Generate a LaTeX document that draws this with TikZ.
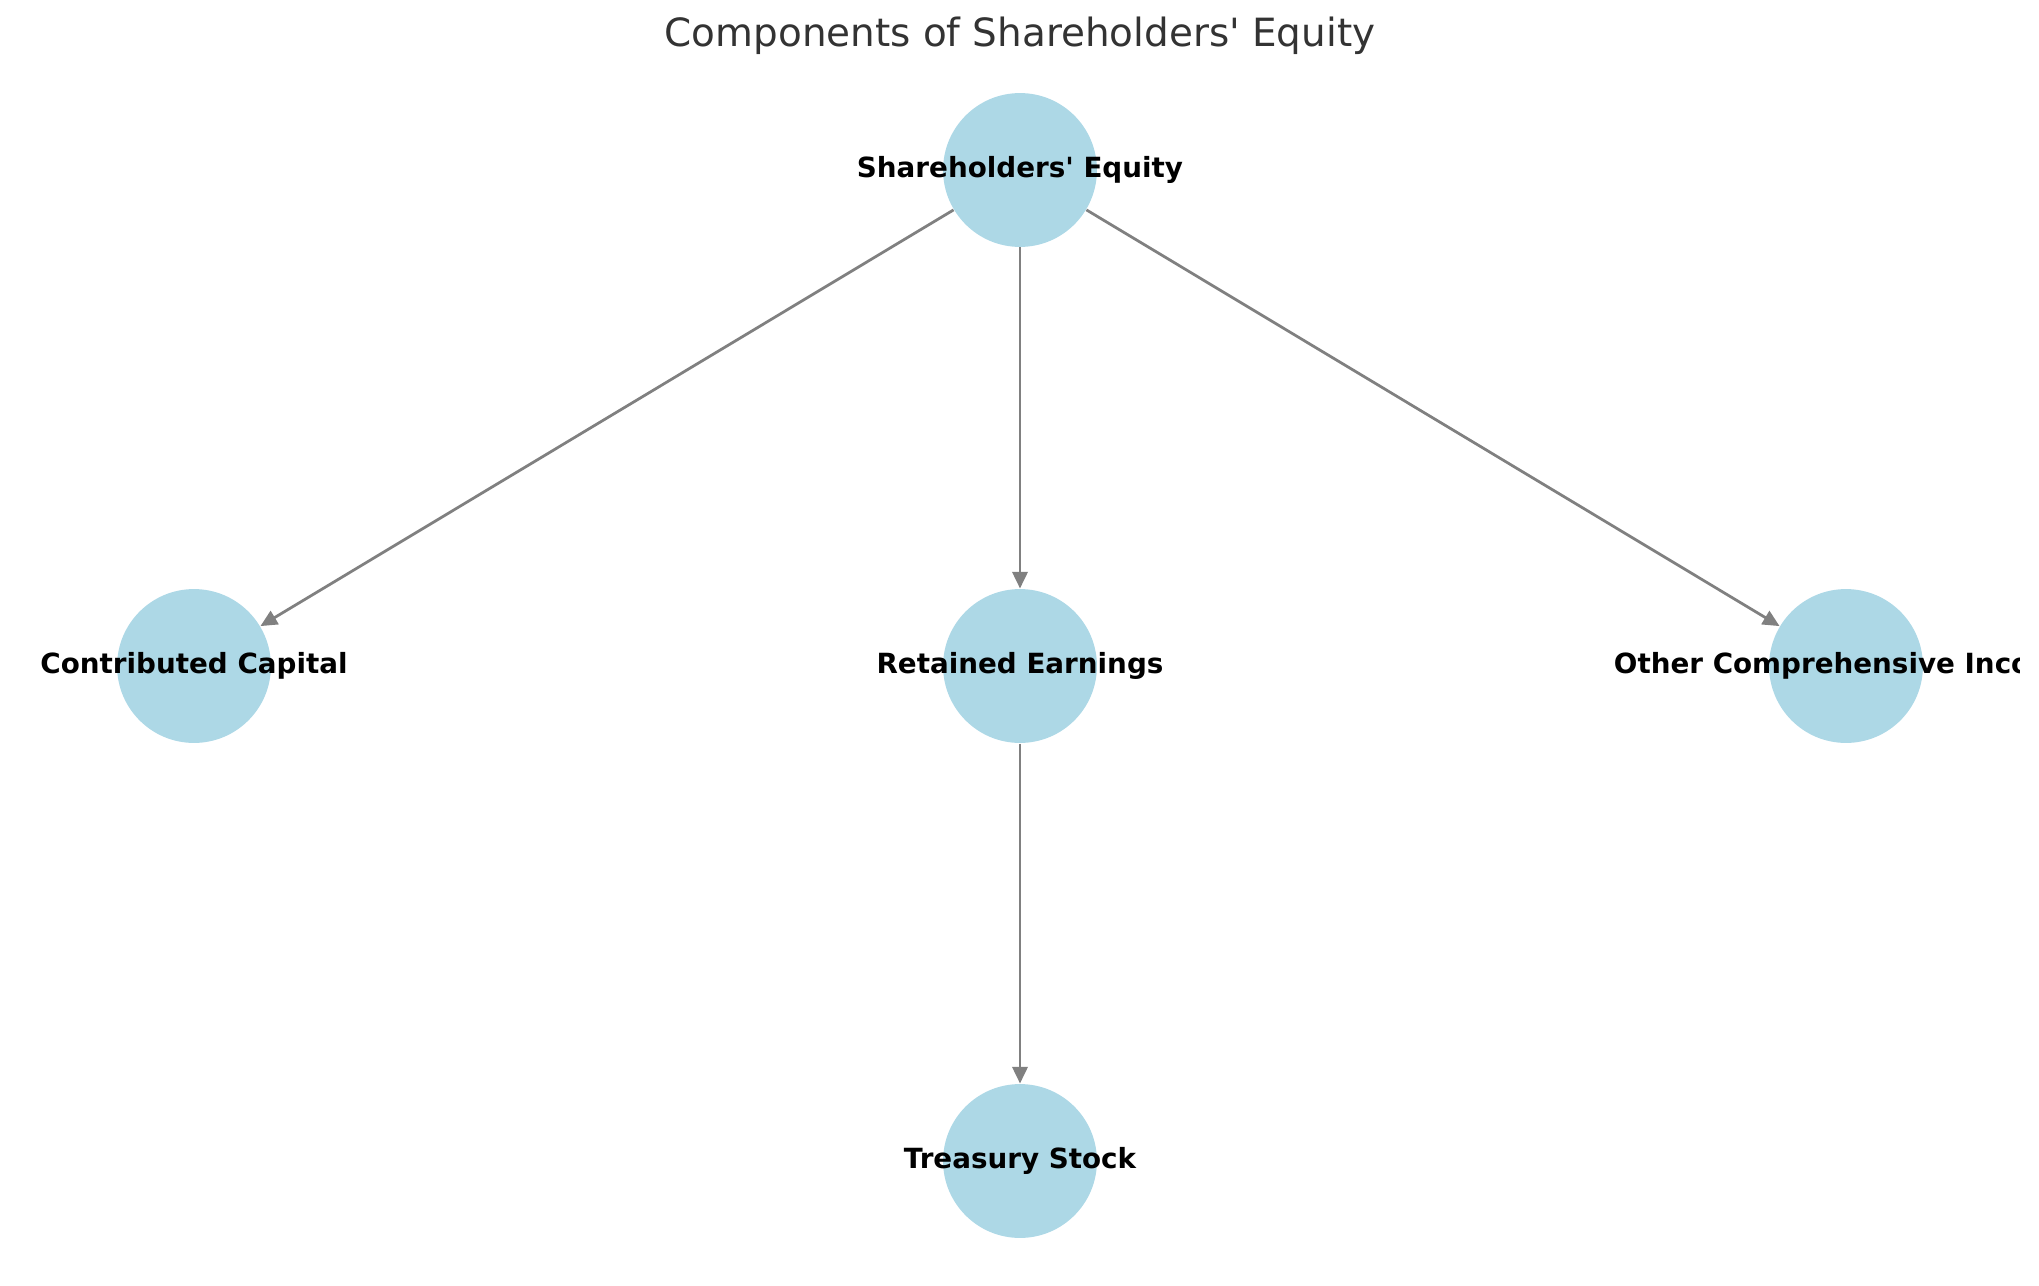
\documentclass[tikz,border=0pt]{standalone}
\usepackage{fontspec}
\setmainfont{DejaVu Sans}
\usetikzlibrary{arrows.meta}
\definecolor{nodeblue}{RGB}{173,216,230}
\definecolor{edgegray}{RGB}{128,128,128}
\definecolor{titlegray}{RGB}{51,51,51}
\tikzstyle{component} = [circle, draw=none, fill=nodeblue, minimum size=55.4pt, inner sep=0pt]
\tikzstyle{compname} = [font=\fontsize{10}{12}\selectfont\bfseries, text=black]
\tikzstyle{arrow} = [draw=edgegray, line width=1pt, -{Stealth[length=6pt,width=5.5pt,inset=0pt]}]

\begin{document}
\begin{tikzpicture}[x=0.36pt,y=-0.36pt]
    \useasboundingbox (0,0) rectangle (2039,1286);
    \begin{scope}
        \clip (0,0) rectangle (2019,1286);
        \node (title) at (1020,36) [font=\fontsize{14}{17}\selectfont, text=titlegray] {Components of Shareholders\textquotesingle{} Equity};

        \node (equity) at (1020,170) [component, label={[compname]center:Shareholders\textquotesingle{} Equity}] {};
        \node (capital) at (194,666) [component, label={[compname]center:Contributed Capital}] {};
        \node (retained) at (1020,666) [component, label={[compname]center:Retained Earnings}] {};
        \node (oci) at (1846,666) [component, label={[compname]center:Other Comprehensive Income}] {};
        \node (treasury) at (1020,1161) [component, label={[compname]center:Treasury Stock}] {};

        \draw [arrow] (equity) -- (capital);
        \draw [arrow] (equity) -- (retained);
        \draw [arrow] (equity) -- (oci);
        \draw [arrow] (retained) -- (treasury);
    \end{scope}
\end{tikzpicture}
\end{document}
